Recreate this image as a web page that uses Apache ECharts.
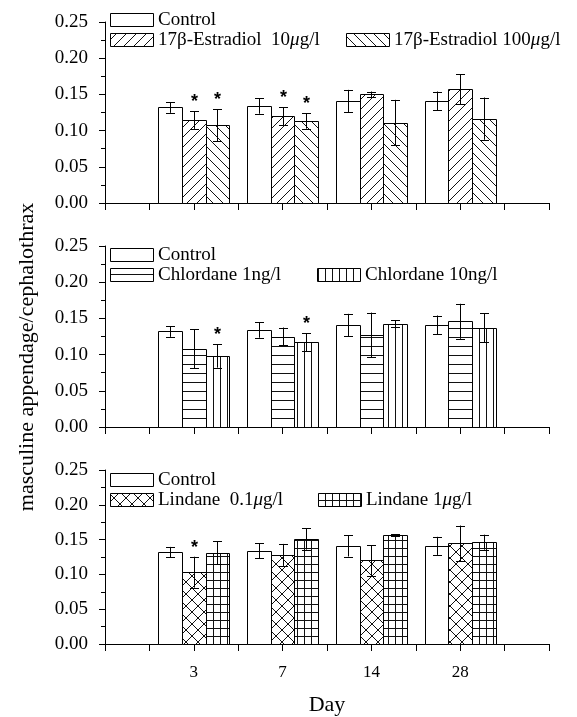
<!DOCTYPE html>
<html>
<head>
<meta charset="utf-8">
<script src="https://cdn.jsdelivr.net/npm/echarts@6/dist/echarts.min.js"></script>
<style>
html,body{margin:0;padding:0;background:#fff;}
#chart{width:577px;height:717px;}
</style>
</head>
<body>
<div id="chart"></div>
<script>
// ---- data ----
const days = ['3', '7', '14', '28'];
const groupPos = [2, 4, 6, 8];
const yTicks = [0, 0.05, 0.10, 0.15, 0.20, 0.25];

const controlMean = [0.132, 0.134, 0.141, 0.141];
const controlErr  = [0.0075, 0.0107, 0.0153, 0.0130];

const e2_10Mean  = [0.1146, 0.1197, 0.150, 0.157];
const e2_10Err   = [0.0122, 0.0124, 0.004, 0.0205];
const e2_10Sig   = [1, 1, 0, 0];
const e2_100Mean = [0.1077, 0.1133, 0.111, 0.1165];
const e2_100Err  = [0.0221, 0.0106, 0.0315, 0.0292];
const e2_100Sig  = [1, 1, 0, 0];

const chl1Mean  = [0.108, 0.125, 0.127, 0.146];
const chl1Err   = [0.027, 0.0124, 0.031, 0.0242];
const chl1Sig   = [0, 0, 0, 0];
const chl10Mean = [0.098, 0.117, 0.1427, 0.137];
const chl10Err  = [0.016, 0.0122, 0.0044, 0.0198];
const chl10Sig  = [1, 1, 0, 0];

const lin01Mean = [0.1032, 0.128, 0.120, 0.1445];
const lin01Err  = [0.0222, 0.0158, 0.0218, 0.0257];
const lin01Sig  = [1, 0, 0, 0];
const lin1Mean  = [0.131, 0.151, 0.156, 0.1463];
const lin1Err   = [0.0163, 0.0154, 0.0014, 0.0108];
const lin1Sig   = [0, 0, 0, 0];

const noSig = [0, 0, 0, 0];

// ---- patterns ----
function makePattern(w, h, draw) {
  const c = document.createElement('canvas');
  c.width = w; c.height = h;
  const ctx = c.getContext('2d');
  ctx.fillStyle = '#fff';
  ctx.fillRect(0, 0, w, h);
  ctx.strokeStyle = '#111';
  ctx.lineWidth = 1;
  ctx.beginPath();
  draw(ctx, w, h);
  ctx.stroke();
  return { image: c, repeat: 'repeat' };
}
const patWhite = '#fff';
const patSlash = makePattern(10, 10, (c, w, h) => {
  c.moveTo(-1, h + 1); c.lineTo(w + 1, -1);
  c.moveTo(-2, 2); c.lineTo(2, -2);
  c.moveTo(w - 2, h + 2); c.lineTo(w + 2, h - 2);
});
const patBack = makePattern(10, 10, (c, w, h) => {
  c.moveTo(-1, -1); c.lineTo(w + 1, h + 1);
  c.moveTo(-2, h - 2); c.lineTo(2, h + 2);
  c.moveTo(w - 2, -2); c.lineTo(w + 2, 2);
});
const patHoriz = makePattern(8, 9, (c, w, h) => {
  c.moveTo(0, 4.5); c.lineTo(w, 4.5);
});
const patVert = makePattern(7, 8, (c, w, h) => {
  c.moveTo(3.5, 0); c.lineTo(3.5, h);
});
const patCross = makePattern(12, 12, (c, w, h) => {
  c.moveTo(-1, h + 1); c.lineTo(w + 1, -1);
  c.moveTo(-1, -1); c.lineTo(w + 1, h + 1);
});
const patGrid = makePattern(7, 8, (c, w, h) => {
  c.moveTo(3.5, 0); c.lineTo(3.5, h);
  c.moveTo(0, 4.5); c.lineTo(w, 4.5);
});

// ---- layout ----
const SERIF = '"Liberation Serif", "Times New Roman", serif';
const BAR_W = 0.533;
const grids = [
  { left: 105, width: 444, top: 22, height: 181 },
  { left: 105, width: 444, top: 246, height: 181 },
  { left: 105, width: 444, top: 470, height: 182 }
];

function barSeries(g, means, errs, sigs, offset, fill) {
  return {
    type: 'custom',
    xAxisIndex: g, yAxisIndex: g,
    clip: false,
    data: means.map((m, i) => [groupPos[i], m, errs[i], sigs[i]]),
    renderItem: function (params, api) {
      const x = api.value(0) + offset;
      const v = api.value(1), e = api.value(2), s = api.value(3);
      const pL = api.coord([x - BAR_W / 2, 0]);
      const pR = api.coord([x + BAR_W / 2, v]);
      const pc = api.coord([x, v]);
      const pt = api.coord([x, v + e]);
      const pb = api.coord([x, v - e]);
      const cx = Math.round(pc[0]) + 0.5;
      const cap = 4.5;
      const children = [
        { type: 'rect', shape: { x: Math.round(pL[0]) + 0.5, y: Math.round(pR[1]) + 0.5, width: Math.round(pR[0]) - Math.round(pL[0]), height: Math.round(pL[1]) - Math.round(pR[1]) },
          style: { fill: fill, stroke: '#000', lineWidth: 1 } },
        { type: 'line', shape: { x1: cx, y1: pt[1], x2: cx, y2: pb[1] }, style: { stroke: '#000', lineWidth: 1 } },
        { type: 'line', shape: { x1: cx - cap, y1: Math.round(pt[1]) + 0.5, x2: cx + cap, y2: Math.round(pt[1]) + 0.5 }, style: { stroke: '#000', lineWidth: 1 } },
        { type: 'line', shape: { x1: cx - cap, y1: Math.round(pb[1]) + 0.5, x2: cx + cap, y2: Math.round(pb[1]) + 0.5 }, style: { stroke: '#000', lineWidth: 1 } }
      ];
      if (s) {
        children.push({ type: 'text', x: cx, y: pt[1] - 9,
          style: { text: '*', fill: '#000', font: 'bold 18px "Liberation Sans", sans-serif', align: 'center', verticalAlign: 'middle' } });
      }
      return { type: 'group', children: children };
    }
  };
}

function panelSeries(g, m2, e2, s2, f2, m3, e3, s3, f3) {
  return [
    barSeries(g, controlMean, controlErr, noSig, -BAR_W, patWhite),
    barSeries(g, m2, e2, s2, 0, f2),
    barSeries(g, m3, e3, s3, BAR_W, f3)
  ];
}

const series = [].concat(
  panelSeries(0, e2_10Mean, e2_10Err, e2_10Sig, patSlash, e2_100Mean, e2_100Err, e2_100Sig, patBack),
  panelSeries(1, chl1Mean, chl1Err, chl1Sig, patHoriz, chl10Mean, chl10Err, chl10Sig, patVert),
  panelSeries(2, lin01Mean, lin01Err, lin01Sig, patCross, lin1Mean, lin1Err, lin1Sig, patGrid)
);

const xAxes = grids.map((gr, i) => ({
  gridIndex: i, type: 'value', min: 0, max: 10, interval: 1,
  axisLine: { show: true, onZero: false, lineStyle: { color: '#000', width: 1 } },
  axisTick: { show: true, length: 7, lineStyle: { color: '#000', width: 1 } },
  splitLine: { show: false },
  axisLabel: {
    show: i === 2, margin: 20, color: '#000', fontFamily: SERIF, fontSize: 17,
    formatter: function (v) { const k = groupPos.indexOf(v); return k >= 0 ? days[k] : ''; }
  },
  name: i === 2 ? 'Day' : '', nameLocation: 'middle', nameGap: 50,
  nameTextStyle: { color: '#000', fontFamily: SERIF, fontSize: 22 }
}));

const yAxes = grids.map((gr, i) => ({
  gridIndex: i, type: 'value', min: yTicks[0], max: yTicks[yTicks.length - 1], interval: yTicks[1] - yTicks[0],
  axisLine: { show: true, onZero: false, lineStyle: { color: '#000', width: 1 } },
  axisTick: { show: true, length: 6, lineStyle: { color: '#000', width: 1 } },
  minorTick: { show: true, splitNumber: 2, length: 4, lineStyle: { color: '#000', width: 1 } },
  splitLine: { show: false },
  axisLabel: { margin: 17, color: '#000', fontFamily: SERIF, fontSize: 19, formatter: v => v.toFixed(2) }
}));

// ---- legends ----
const legendFont = '19px ' + SERIF;
const rich = { i: { fontStyle: 'italic', fontFamily: SERIF, fontSize: 19, fill: '#000' } };
function legendItem(x, y, fill, text) {
  return [
    { type: 'rect', shape: { x: x + 0.5, y: y + 0.5, width: 43, height: 13 }, style: { fill: fill, stroke: '#000', lineWidth: 1 }, z: 10 },
    { type: 'text', x: x + 48, y: y + 7, z: 10,
      style: { text: text, font: legendFont, fill: '#000', verticalAlign: 'middle', align: 'left', rich: rich } }
  ];
}
const legendLabels1 = ['Control', '17β-Estradiol  10{i|μ}g/l', '17β-Estradiol 100{i|μ}g/l'];
const legendLabels2 = ['Control', 'Chlordane 1ng/l', 'Chlordane 10ng/l'];
const legendLabels3 = ['Control', 'Lindane  0.1{i|μ}g/l', 'Lindane 1{i|μ}g/l'];

const graphics = [].concat(
  legendItem(110, 13, patWhite, legendLabels1[0]),
  legendItem(110, 33, patSlash, legendLabels1[1]),
  legendItem(346, 33, patBack, legendLabels1[2]),
  legendItem(110, 248, patWhite, legendLabels2[0]),
  legendItem(110, 268, patHoriz, legendLabels2[1]),
  legendItem(317, 268, patVert, legendLabels2[2]),
  legendItem(110, 473, patWhite, legendLabels3[0]),
  legendItem(110, 493, patCross, legendLabels3[1]),
  legendItem(318, 493, patGrid, legendLabels3[2]),
  [{ type: 'text', x: 27, y: 357, rotation: Math.PI / 2,
     style: { text: 'masculine appendage/cephalothrax', font: '22px ' + SERIF, fill: '#000', align: 'center', verticalAlign: 'middle' } }]
);

const chart = echarts.init(document.getElementById('chart'), null, { renderer: 'canvas' });
chart.setOption({
  animation: false,
  backgroundColor: '#fff',
  grid: grids,
  xAxis: xAxes,
  yAxis: yAxes,
  series: series,
  graphic: graphics
});
</script>
</body>
</html>
